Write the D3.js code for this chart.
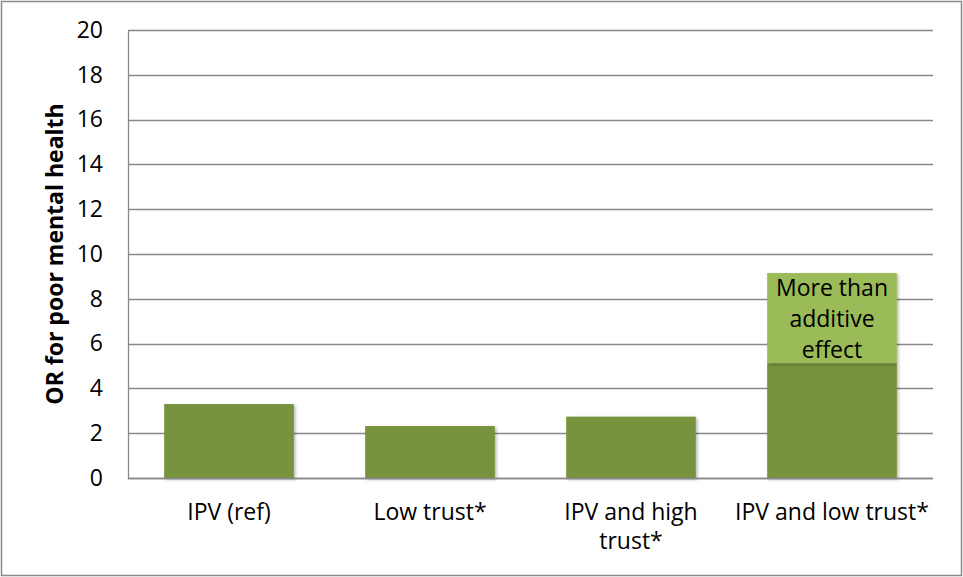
<!DOCTYPE html>
<html><head><meta charset="utf-8">
<script src="https://cdn.jsdelivr.net/npm/d3@7"></script>
<style>
html,body{margin:0;padding:0;background:#fff;}
svg text{font-family:"Open Sans",Lato,sans-serif;fill:#000;}
</style></head>
<body><svg id="chart" width="963" height="577"></svg>
<script>
const categories = ["IPV (ref)", "Low trust*", "IPV and high\ntrust*", "IPV and low trust*"];
const baseValues = [3.3, 2.32, 2.74, 5.13];
const extraValues = [0, 0, 0, 4.02];
const extraLabel = ["More than", "additive", "effect"];
const yTicks = [0, 2, 4, 6, 8, 10, 12, 14, 16, 18, 20];
const yTitle = "OR for poor mental health";

const FS = 23;
const svg = d3.select("#chart");
const W = 963, H = 577;
const m = {left:128, right:30, top:30, bottom:99};

svg.append("rect").attr("x",1.5).attr("y",1.5).attr("width",W-3).attr("height",H-3)
  .attr("fill","#fff").attr("stroke","#8a8a8a").attr("stroke-width",1.5);

const x = d3.scaleBand().domain(categories).range([m.left, W-m.right]).paddingInner(0.355).paddingOuter(0.18);
const y = d3.scaleLinear().domain([0,20]).range([H-m.bottom, m.top]);

// gridlines
svg.append("g").selectAll("line").data(yTicks).join("line")
  .attr("x1", m.left).attr("x2", W-m.right)
  .attr("y1", d=>Math.round(y(d))+0.5).attr("y2", d=>Math.round(y(d))+0.5)
  .attr("stroke","#888").attr("stroke-width",1.3);

// y axis
const yAxis = svg.append("g").attr("transform",`translate(${m.left},0)`)
  .call(d3.axisLeft(y).tickValues(yTicks).tickSize(0).tickPadding(25));
yAxis.select(".domain").attr("stroke","#888").attr("stroke-width",1.3);
yAxis.selectAll("text").attr("font-size",FS).attr("font-family","'Open Sans',Lato,sans-serif").attr("fill","#000");

// shadow filter
const defs = svg.append("defs");
const f = defs.append("filter").attr("id","sh").attr("x","-10%").attr("y","-10%").attr("width","130%").attr("height","130%");
f.append("feDropShadow").attr("dx",1.5).attr("dy",1.5).attr("stdDeviation",1.5).attr("flood-color","#000").attr("flood-opacity",0.3);

const data = categories.map((c,i)=>({c, base:baseValues[i], extra:extraValues[i]}));
const g = svg.append("g");
g.selectAll("rect.base").data(data).join("rect").attr("class","base")
  .attr("x", d=>x(d.c)).attr("width", x.bandwidth())
  .attr("y", d=>y(d.base)).attr("height", d=>y(0)-y(d.base))
  .attr("fill","#77933C").attr("filter","url(#sh)");
const ex = data.filter(d=>d.extra>0);
g.selectAll("rect.extra").data(ex).join("rect").attr("class","extra")
  .attr("x", d=>x(d.c)).attr("width", x.bandwidth())
  .attr("y", d=>y(d.base+d.extra)).attr("height", d=>y(d.base)-y(d.base+d.extra))
  .attr("fill","#9BBB59").attr("filter","url(#sh)");

// label in extra segment
ex.forEach(d=>{
  const cx = x(d.c)+x.bandwidth()/2;
  const top = y(d.base+d.extra);
  const t = svg.append("text").attr("text-anchor","middle").attr("font-size",FS);
  extraLabel.forEach((line,i)=>{
    t.append("tspan").attr("x",cx).attr("y", top+23+i*31).text(line);
  });
});

// bottom axis line
svg.append("line").attr("x1",m.left).attr("x2",W-m.right)
  .attr("y1",Math.round(y(0))+0.5).attr("y2",Math.round(y(0))+0.5)
  .attr("stroke","#888").attr("stroke-width",1.3);

// x labels
categories.forEach(c=>{
  const cx = x(c)+x.bandwidth()/2;
  const t = svg.append("text").attr("text-anchor","middle").attr("font-size",FS);
  c.split("\n").forEach((line,i)=>{
    t.append("tspan").attr("x",cx).attr("y",y(0)+42+i*29).text(line);
  });
});

// y title
svg.append("text").attr("transform",`translate(63,${(y(0)+y(20))/2}) rotate(-90)`)
  .attr("text-anchor","middle").attr("font-size",FS).attr("font-weight","bold").text(yTitle);
</script></body></html>
